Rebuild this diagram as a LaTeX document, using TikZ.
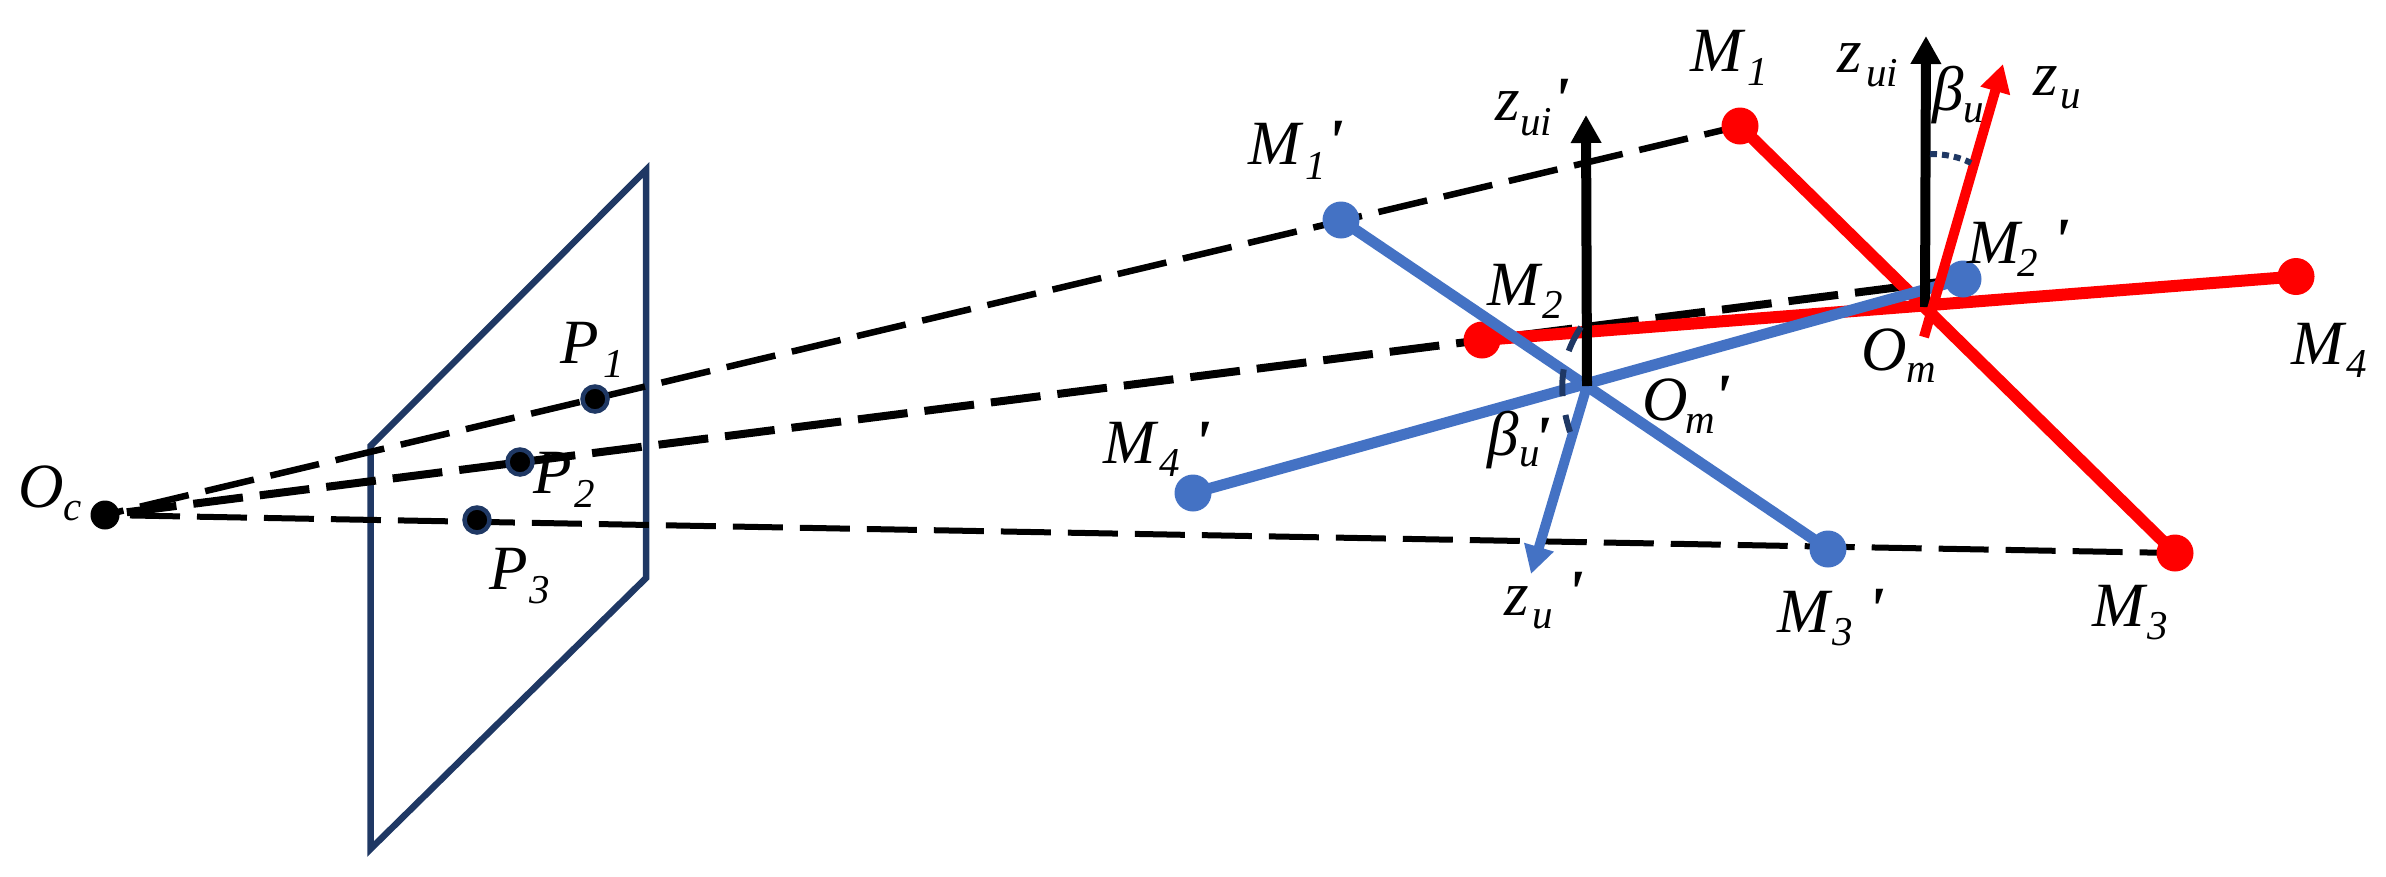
\documentclass[tikz,border=0pt]{standalone}
\usepackage{fontspec}
\usetikzlibrary{arrows.meta}
\newfontfamily\tnr{Liberation Serif}
\definecolor{mblue}{HTML}{4472C4}
\definecolor{mnavy}{HTML}{1F3864}
\definecolor{mred}{HTML}{FF0000}
% main, sub dx, sub drop, sub, prime dx, prime raise
\newcommand\lblp[6]{\rlap{#1}\rlap{\kern#2pt\raisebox{-#3pt}{\fontsize{41}{44}\selectfont #4}}\rlap{\kern#5pt\raisebox{#6pt}{\bfseries '}}\kern#2pt\phantom{\fontsize{41}{44}\selectfont #4}}
\newcommand\lbln[4]{\rlap{#1}\kern#2pt\raisebox{-#3pt}{\fontsize{41}{44}\selectfont #4}}
\tikzset{
  lab/.style={anchor=base west,inner sep=0pt,outer sep=0pt,font=\tnr\itshape\fontsize{63}{70}\selectfont},
  ray/.style={black,line width=6.5pt,dash pattern=on 50pt off 17pt},
  redbar/.style={mred,line width=12pt},
  bluebar/.style={mblue,line width=11pt},
  reddot/.style={circle,fill=mred,inner sep=0pt,outer sep=0pt,minimum size=37pt},
  bluedot/.style={circle,fill=mblue,inner sep=0pt,outer sep=0pt,minimum size=37pt},
  imgdot/.style={circle,fill=black,draw=mnavy,line width=4.5pt,inner sep=0pt,outer sep=0pt,minimum size=25pt},
  axisarrow/.style={line width=10pt,-{Triangle[length=28pt,width=29pt]}},
  anglemark/.style={mnavy,line width=6pt}
}
\begin{document}
\begin{tikzpicture}[x=1pt,y=-1pt]
\useasboundingbox (0,0) rectangle (2386,876);
% plane
\coordinate (pa) at (646,170);
\coordinate (pb) at (370.5,446);
\coordinate (pc) at (370.5,849);
\coordinate (pd) at (646,578);
\draw[mnavy,line width=6.5pt,line join=miter] (pa) -- (pb) -- (pc) -- (pd) -- cycle;
% anchors
\coordinate (Oc) at (105,515);
\coordinate (Om) at (1925,307);
\coordinate (Omp) at (1587,386);
\coordinate (Mone) at (1740,126);
\coordinate (Mtwo) at (1482,340);
\coordinate (Mthree) at (2175,553);
\coordinate (Mfour) at (2296,276.5);
\coordinate (Monep) at (1341,220);
\coordinate (Mtwop) at (1963,279);
\coordinate (Mthreep) at (1828,549);
\coordinate (Mfourp) at (1193,493);
\coordinate (zuiT) at (1926,36);
\coordinate (zuipT) at (1586,115);
\coordinate (zuT) at (2003,64);
\coordinate (zuS) at (1924,337);
\coordinate (zupT) at (1531,574);
\coordinate (amA) at (1930,154);
\coordinate (amB) at (1971,163);
\coordinate (bmA) at (1581,327);
\coordinate (bmB) at (1570,432);
% rays
\draw[ray,dash phase=31pt] (Oc) -- (Mone);
\draw[ray,line width=8pt,dash phase=45pt] (Oc) -- (Mtwop);
\draw[ray,line width=6pt,dash phase=42pt] (Oc) -- (Mthree);
% image points
\node[imgdot] (P1) at (595,399) {};
\node[imgdot] (P2) at (520,462) {};
\node[imgdot] (P3) at (477,520) {};
\node[circle,fill=black,inner sep=0pt,outer sep=0pt,minimum size=29pt] (Ocd) at (Oc) {};
% red marker
\draw[redbar] (Mone) -- (Mthree);
\draw[redbar] (Mtwo) -- (Mfour);
\node[reddot] (M1) at (Mone) {};
\node[reddot] (M2) at (Mtwo) {};
\node[reddot] (M3) at (Mthree) {};
\node[reddot] (M4) at (Mfour) {};
% blue marker
\node[bluedot] (M2p) at (Mtwop) {};
\draw[bluebar] (Monep) -- (Mthreep);
\draw[bluebar] (Mfourp) -- (Mtwop);
\node[bluedot] (M1p) at (Monep) {};
\node[bluedot] (M3p) at (Mthreep) {};
\node[bluedot] (M4p) at (Mfourp) {};
% axes
\draw[axisarrow,mblue] (Omp) -- (zupT);
\draw[axisarrow,black] (Omp) -- (zuipT);
\draw[axisarrow,black] (Om) -- (zuiT);
\draw[axisarrow,mred] (zuS) -- (zuT);
% angle marks
\draw[anglemark,dash pattern=on 7pt off 5pt] (amA) .. controls (1945,154) and (1960,157) .. (amB);
\draw[anglemark,dash pattern=on 27pt off 19pt] (bmA) .. controls (1556,365) and (1560,400) .. (bmB);
% labels
\node[lab] (lOc) at (19,507) {\lbln{O}{45}{13}{c}};
\node[lab] (lP1) at (560,363) {\lbln{P}{43}{14}{1}};
\node[lab] (lP2) at (533.5,493) {\lbln{P}{40.5}{14}{2}};
\node[lab] (lP3) at (489,589) {\lbln{P}{40}{14}{3}};
\node[lab] (lM1) at (1690,71) {\lbln{M}{57}{14}{1}};
\node[lab] (lM2) at (1487,305) {\lbln{M}{55}{13}{2}};
\node[lab] (lM3) at (2092,626) {\lbln{M}{55}{13}{3}};
\node[lab] (lM4) at (2291,364) {\lbln{M}{55}{13}{4}};
\node[lab] (lM1p) at (1248,164) {\lblp{M}{57}{15}{1}{78}{2}};
\node[lab] (lM2p) at (1967,263) {\lblp{M}{50}{13}{2}{85}{2}};
\node[lab] (lM3p) at (1777,632) {\lblp{M}{55}{13}{3}{90}{2}};
\node[lab] (lM4p) at (1103,463) {\lblp{M}{56}{13}{4}{90}{0}};
\node[lab] (lOm) at (1861.5,370) {\lbln{O}{44.5}{12}{m}};
\node[lab] (lOmp) at (1642,420) {\lblp{O}{43}{13}{m}{71}{3}};
\node[lab] (lzui) at (1837,72) {\lbln{z}{29}{14}{ui}};
\node[lab] (lzuip) at (1495,120.5) {\lblp{z}{25}{14.5}{ui}{57}{0}};
\node[lab] (lzu) at (2033,95) {\lbln{z}{27}{13.5}{u}};
\node[lab] (lzup) at (1504,615) {\lblp{z}{28}{13.5}{u}{62}{2}};
\node[lab] (lbu) at (1932.5,110) {\lbln{\char"03B2}{31}{12}{u}};
\node[lab] (lbup) at (1487,455) {\lblp{\char"03B2}{32}{11.5}{u}{46}{-4}};
\end{tikzpicture}
\end{document}
